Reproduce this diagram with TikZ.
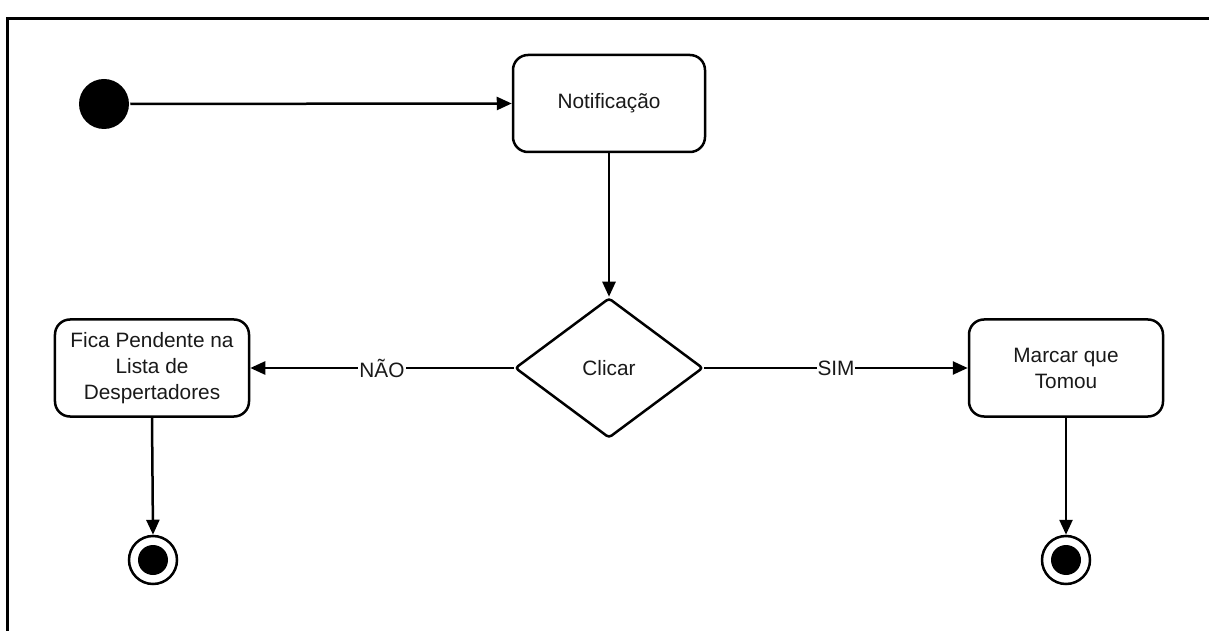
\documentclass[tikz,border=0pt]{standalone}
\usepackage{fontspec}
\setmainfont{Liberation Sans}
\usetikzlibrary{shapes.geometric,arrows.meta}
\begin{document}
\begin{tikzpicture}[x=1bp,y=-1bp,
  font=\fontsize{20.8bp}{26bp}\selectfont,
  line width=2.5bp,
  state/.style={draw, rounded corners=15bp, minimum width=194bp, minimum height=97bp,
    inner sep=2bp, align=center, text=black!90},
  decision/.style={draw, diamond, aspect=1.343, minimum width=188bp, minimum height=140bp,
    inner sep=0pt, rounded corners=3bp, text=black!90},
  initial/.style={circle, fill=black, minimum size=50bp, inner sep=0pt},
  final/.style={circle, draw, minimum size=48bp, inner sep=0pt,
    path picture={\fill[black] (path picture bounding box.center) circle (15bp);}},
  flow/.style={-{Triangle[length=15bp,width=13bp]}},
  guard/.style={fill=white, inner sep=1bp, text=black!90}]
\useasboundingbox (0,0) rectangle (1209,631);
% white page
\fill[white] (0,0) rectangle (1209,631);
% page frame: left and top edges only
\draw[line width=3bp] (7.5,631) -- (7.5,19) -- (1209,19);

% nodes
\node[initial] (start) at (104,104) {};
\node[state, minimum width=192bp] (notif) at (609,103.5) {Notifica\c{c}\~ao};
\node[decision] (click) at (609,368) {Clicar};
\node[state] (pend) at (152,368) {Fica Pendente na\\Lista de\\Despertadores};
\node[state] (mark) at (1066,368) {Marcar que\\Tomou};
\node[final] (endL) at (153,560) {};
\node[final] (endR) at (1066,560) {};

% connectors
\draw[flow] (start) -- (notif.west);
\draw[flow] (notif.south) -- (click.north);
\draw[flow] (click.west) -- node[guard] {N\~AO} (pend.east);
\draw[flow] (click.east) -- node[guard] {SIM} (mark.west);
\draw[flow] (pend.south) -- (endL.north);
\draw[flow] (mark.south) -- (endR.north);
\end{tikzpicture}
\end{document}
